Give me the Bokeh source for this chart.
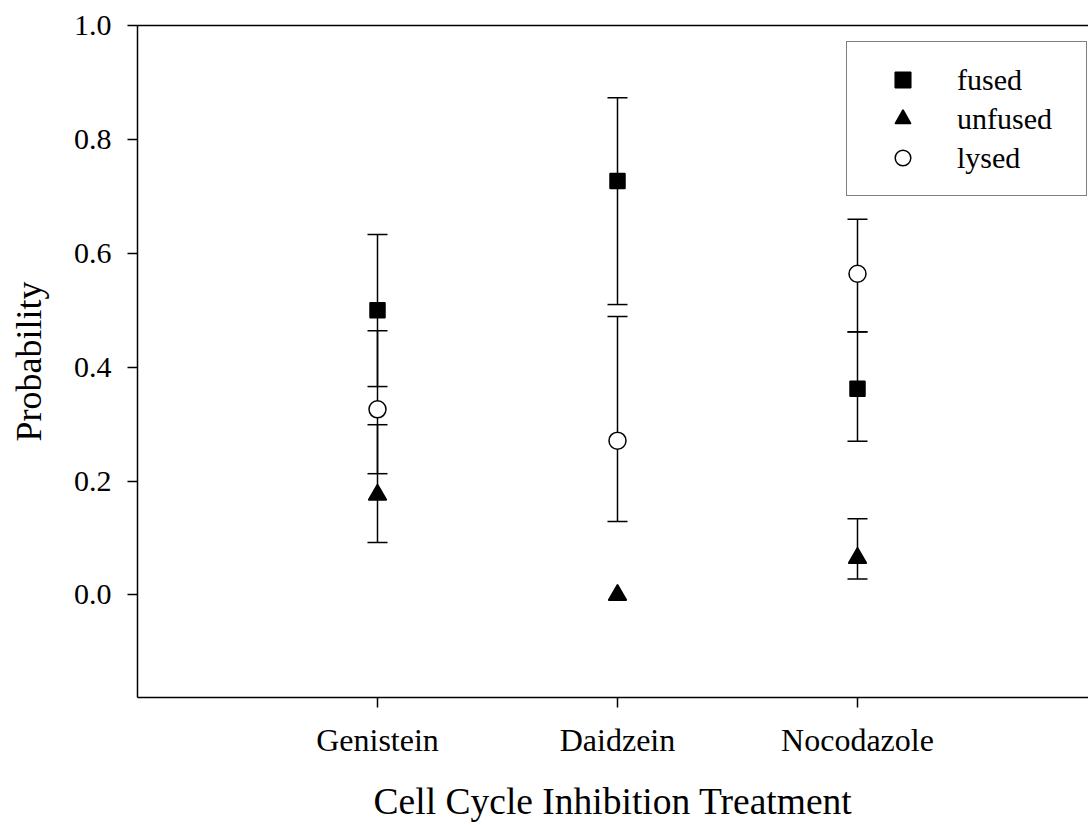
from bokeh.plotting import figure
from bokeh.models import (ColumnDataSource, Whisker, TeeHead, FixedTicker, LinearAxis,
                          PrintfTickFormatter, Legend, LegendItem, Range1d)
from bokeh.embed import file_html
from bokeh.resources import INLINE

# ---- data ----
categories = ["Genistein", "Daidzein", "Nocodazole"]
cat_pos = [1, 2, 3]

fused = [0.500, 0.727, 0.362]
fused_lower = [0.366, 0.510, 0.270]
fused_upper = [0.633, 0.873, 0.462]

unfused = [0.176, 0.000, 0.065]
unfused_lower = [0.092, 0.000, 0.028]
unfused_upper = [0.299, 0.000, 0.134]

lysed = [0.326, 0.271, 0.564]
lysed_lower = [0.213, 0.129, 0.462]
lysed_upper = [0.464, 0.489, 0.660]

y_ticks = [0.0, 0.2, 0.4, 0.6, 0.8, 1.0]

FONT = "Liberation Serif"

p = figure(width=1088, height=825, output_backend="svg", toolbar_location=None,
           x_range=Range1d(0, 3.9625), y_range=Range1d(-0.18, 1.0),
           min_border_left=137, min_border_top=25, min_border_right=0, min_border_bottom=128)
p.outline_line_color = None
p.xgrid.grid_line_color = None
p.ygrid.grid_line_color = None
p.background_fill_color = "white"
p.border_fill_color = "white"

# axes styling
for ax in (p.xaxis[0], p.yaxis[0]):
    ax.axis_line_width = 1.5
    ax.axis_line_color = "black"
    ax.major_tick_line_width = 1.5
    ax.major_tick_line_color = "black"
    ax.major_tick_in = 0
    ax.major_tick_out = 10
    ax.minor_tick_line_color = None
    ax.major_label_text_font = FONT
    ax.major_label_text_color = "black"
    ax.axis_label_text_font = FONT
    ax.axis_label_text_font_style = "normal"
    ax.axis_label_text_color = "black"

p.xaxis.ticker = FixedTicker(ticks=cat_pos)
p.xaxis.major_label_overrides = {k: v for k, v in zip(cat_pos, categories)}
p.xaxis.major_label_text_font_size = "32px"
p.xaxis.major_label_standoff = 14
p.xaxis.axis_label = "Cell Cycle Inhibition Treatment"
p.xaxis.axis_label_text_font_size = "37.5px"
p.xaxis.axis_label_standoff = 20

p.yaxis.ticker = FixedTicker(ticks=y_ticks)
p.yaxis.formatter = PrintfTickFormatter(format="%.1f")
p.yaxis.major_label_text_font_size = "30px"
p.yaxis.major_label_standoff = 16
p.yaxis.axis_label = "Probability"
p.yaxis.axis_label_text_font_size = "36px"
p.yaxis.axis_label_standoff = 22

# top frame line
top = LinearAxis(ticker=FixedTicker(ticks=[]), axis_line_width=1.5, axis_line_color="black",
                 major_tick_line_color=None, minor_tick_line_color=None,
                 major_tick_out=0, major_tick_in=0, major_label_standoff=0,
                 major_label_text_font_size="0px")
p.add_layout(top, "above")


def add_series(values, lower, upper, marker, size, fill):
    keep = [i for i in range(len(values)) if upper[i] > lower[i]]
    wsrc = ColumnDataSource(dict(x=[cat_pos[i] for i in keep],
                                 lo=[lower[i] for i in keep],
                                 hi=[upper[i] for i in keep]))
    w = Whisker(base="x", lower="lo", upper="hi", source=wsrc, dimension="height",
                line_color="black", line_width=1.5, level="underlay",
                upper_head=TeeHead(size=20, line_width=1.5, line_color="black"),
                lower_head=TeeHead(size=20, line_width=1.5, line_color="black"))
    p.add_layout(w)
    src = ColumnDataSource(dict(x=cat_pos, y=values))
    r = p.scatter("x", "y", source=src, marker=marker, size=size,
                  fill_color=fill, line_color="black", line_width=1.5)
    return r


r_fused = add_series(fused, fused_lower, fused_upper, "square", 15, "black")
r_unfused = add_series(unfused, unfused_lower, unfused_upper, "triangle", 18, "black")
r_lysed = add_series(lysed, lysed_lower, lysed_upper, "circle", 17, "white")

legend = Legend(items=[LegendItem(label="fused", renderers=[r_fused]),
                       LegendItem(label="unfused", renderers=[r_unfused]),
                       LegendItem(label="lysed", renderers=[r_lysed])],
                location=(709, 501),
                label_text_font=FONT, label_text_font_size="30px",
                label_text_color="black",
                glyph_width=75, glyph_height=39, label_height=39,
                label_width=111, label_standoff=17, spacing=0, padding=18,
                margin=0,
                border_line_color="black", border_line_width=1.5,
                background_fill_color="white", background_fill_alpha=1.0)
p.add_layout(legend, "center")

open("out.html", "w").write(file_html(p, INLINE))
